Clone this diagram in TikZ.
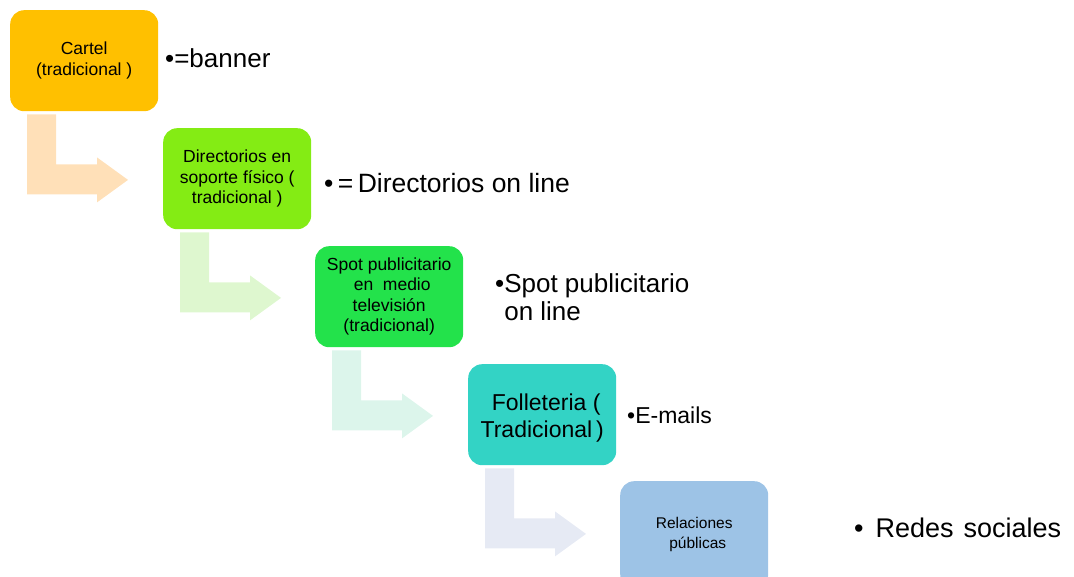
\documentclass[tikz,border=0pt]{standalone}
\usepackage{fontspec}
\setmainfont{Liberation Sans}
\usetikzlibrary{calc}
\definecolor{cOrange}{HTML}{FFC000}
\definecolor{cLime}{HTML}{84EC14}
\definecolor{cGreen}{HTML}{23E24B}
\definecolor{cTeal}{HTML}{33D3C5}
\definecolor{cBlue}{HTML}{9DC3E6}
\definecolor{aOrange}{HTML}{FFE0B8}
\definecolor{aLime}{HTML}{DEF7CF}
\definecolor{aGreen}{HTML}{DCF5EB}
\definecolor{aBlue}{HTML}{E6EAF4}
\tikzset{
  box/.style={rectangle, rounded corners=14pt, minimum width=148pt, minimum height=101pt,
    inner sep=0pt, anchor=north west, align=center},
  smalltxt/.style={font=\fontsize{17.5}{20.5}\selectfont},
  bullettxt/.style={anchor=west, inner sep=0pt, align=left}
}
\newcommand{\bendarr}[2]{%
  \fill[#2] ($(#1.south west)+(17,3)$) -- ($(#1.south west)+(46,3)$) -- ($(#1.south west)+(46,53)$)
    -- ($(#1.south west)+(87,53)$) -- ($(#1.south west)+(87,46)$) -- ($(#1.south west)+(118,68.5)$)
    -- ($(#1.south west)+(87,91)$) -- ($(#1.south west)+(87,83)$) -- ($(#1.south west)+(17,83)$) -- cycle;}
\begin{document}
\begin{tikzpicture}[x=1pt,y=-1pt]
\useasboundingbox (0,0) rectangle (1074,577);
\clip (0,0) rectangle (1074,577);
\node[box, fill=cOrange, smalltxt] (b1) at (10,10) {Cartel\\(tradicional )};
\node[box, fill=cLime, smalltxt] (b2) at (163,128) {Directorios en\\soporte físico (\\tradicional )};
\node[box, fill=cGreen, smalltxt] (b3) at (315,246) {Spot publicitario\\ \hspace*{6pt}en\ \ medio\\televisión\hspace*{12pt}\\ (tradicional)};
\node[box, fill=cTeal, font=\fontsize{23}{27}\selectfont, text depth=0pt] (b4) at (468,364) {\raisebox{-2pt}{\hspace*{8pt}Folleteria (}\\\raisebox{-2pt}{Tradicional\,)}};
\node[box, fill=cBlue, font=\fontsize{15.5}{20.5}\selectfont, minimum height=107pt] (b5) at (620,481) {Relaciones\\\hspace*{7pt}públicas};
\bendarr{b1}{aOrange}
\bendarr{b2}{aLime}
\bendarr{b3}{aGreen}
\bendarr{b4}{aBlue}
\node[bullettxt, font=\fontsize{26}{28}\selectfont] (t1) at (165,58) {•=banner};
\node[bullettxt, font=\fontsize{26.5}{28}\selectfont] (t2) at (324,183) {•\,=\,Directorios on line};
\node[bullettxt, font=\fontsize{26}{28}\selectfont] (t3) at (495,297.5) {•Spot publicitario\\\phantom{•}on line};
\node[bullettxt, font=\fontsize{23}{27}\selectfont] (t4) at (627,415) {•E-mails};
\node[bullettxt, font=\fontsize{27}{30}\selectfont] (t5) at (854,528) {•\hspace{12pt}Redes\hspace{10pt}sociales};
\end{tikzpicture}
\end{document}
